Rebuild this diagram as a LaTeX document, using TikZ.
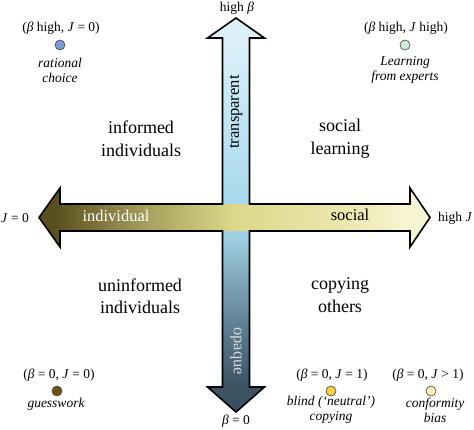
\documentclass[tikz,border=0pt]{standalone}
\usepackage{fontspec}
\setmainfont{Liberation Serif}
\newcommand{\bb}{\textit{β}}
\newcommand{\jj}{\textit{J}}
\pgfdeclareverticalshading{betashade}{100bp}{
  rgb(0bp)=(0.22,0.31,0.37); rgb(28bp)=(0.23,0.32,0.38);
  rgb(35bp)=(0.35,0.48,0.55); rgb(42bp)=(0.50,0.66,0.73);
  rgb(47bp)=(0.62,0.81,0.89); rgb(52bp)=(0.66,0.85,0.93);
  rgb(64bp)=(0.77,0.91,0.96); rgb(72bp)=(0.86,0.94,0.97);
  rgb(100bp)=(0.88,0.95,0.98)}
\pgfdeclarehorizontalshading{jshade}{100bp}{
  rgb(0bp)=(0.33,0.28,0.11); rgb(27bp)=(0.35,0.31,0.12);
  rgb(39bp)=(0.66,0.63,0.37); rgb(50bp)=(0.86,0.85,0.54);
  rgb(65bp)=(0.93,0.91,0.69); rgb(72bp)=(0.97,0.96,0.83);
  rgb(100bp)=(0.98,0.97,0.86)}
\definecolor{dotblue}{HTML}{7D9BD8}
\definecolor{dotgreen}{HTML}{D2ECDC}
\definecolor{dotbrown}{HTML}{6A5210}
\definecolor{dotyellow}{HTML}{F6D244}
\definecolor{dotcream}{HTML}{FBF1B6}
\tikzset{
  quad/.style={font=\fontsize{18}{22.5}\selectfont, align=center},
  tag/.style={font=\fontsize{13.5}{15}\selectfont},
  note/.style={font=\fontsize{13.5}{15}\selectfont\itshape, align=center},
  axtext/.style={font=\fontsize{16.5}{18}\selectfont},
  dot/.style={circle, draw=black!75, line width=0.6pt, minimum size=10pt, inner sep=0pt}
}
\begin{document}
\begin{tikzpicture}[x=1pt,y=-1pt]
            \useasboundingbox (0,0) rectangle (474,429);
            % vertical arrow
            \coordinate (vt) at (236,18);
            \coordinate (vb) at (236,412);
            % horizontal arrow
            \coordinate (hl) at (39,217.5);
            \coordinate (hr) at (430,217.5);
            \shade[shading=betashade]
                (vt) -- (264.5,38) -- (249.5,38) -- (249.5,387) -- (264.5,387) -- (vb)
                -- (207.5,387) -- (222.5,387) -- (222.5,38) -- (207.5,38) -- cycle;
            \shade[shading=jshade]
                (hl) -- (60,188) -- (60,204) -- (410,204) -- (410,188) -- (hr)
                -- (410,247) -- (410,231) -- (60,231) -- (60,247) -- cycle;
            \draw[line width=1.6pt, line join=miter]
                (vt) -- (264.5,38) -- (249.5,38) -- (249.5,204) -- (410,204) -- (410,188)
                -- (hr) -- (410,247) -- (410,231) -- (249.5,231) -- (249.5,387)
                -- (264.5,387) -- (vb) -- (207.5,387) -- (222.5,387) -- (222.5,231)
                -- (60,231) -- (60,247) -- (hl) -- (60,188) -- (60,204) -- (222.5,204)
                -- (222.5,38) -- (207.5,38) -- cycle;

            \node[axtext, white] (indiv) at (116,216) {individual};
            \node[axtext] (soc) at (350,215) {social};
            \node[axtext, rotate=90] (transp) at (236,112) {transparent};
            \node[axtext, rotate=-90, white!85!black] (opaq) at (236,351) {opaque};

            \node[tag] (hb) at (237,8) {high \bb};
            \node[tag] (b0) at (236,421) {\bb\ = 0};
            \node[tag, anchor=east, inner sep=0pt] (j0) at (29,218) {\jj\ = 0};
            \node[tag, anchor=west, inner sep=0pt] (hj) at (438,218) {high \jj};

            \node[quad] (inf) at (141,138.5) {informed\\individuals};
            \node[quad] (sl) at (340,138.5) {social\\learning};
            \node[quad] (uninf) at (140,296) {uninformed\\individuals};
            \node[quad] (co) at (340,295) {copying\\others};

            \node[tag] (t1) at (61,28) {(\bb\ high, \jj\ = 0)};
            \node[dot, fill=dotblue] (d1) at (60,45) {};
            \node[note] (n1) at (60,70) {rational\\choice};

            \node[tag] (t2) at (406,28) {(\bb\ high, \jj\ high)};
            \node[dot, fill=dotgreen] (d2) at (405,45) {};
            \node[note] (n2) at (405,70) {Learning\\from experts};

            \node[tag] (t3) at (59,375) {(\bb\ = 0, \jj\ = 0)};
            \node[dot, fill=dotbrown] (d3) at (57,391) {};
            \node[note] (n3) at (56,404) {guesswork};

            \node[tag] (t4) at (332,375) {(\bb\ = 0, \jj\ = 1)};
            \node[dot, fill=dotyellow] (d4) at (331,391) {};
            \node[note] (n4) at (331,410) {blind (‘neutral’)\\copying};

            \node[tag] (t5) at (428,375) {(\bb\ = 0, \jj\ > 1)};
            \node[dot, fill=dotcream] (d5) at (431,391) {};
            \node[note] (n5) at (435,410) {conformity\\bias};
        \end{tikzpicture}
\end{document}
